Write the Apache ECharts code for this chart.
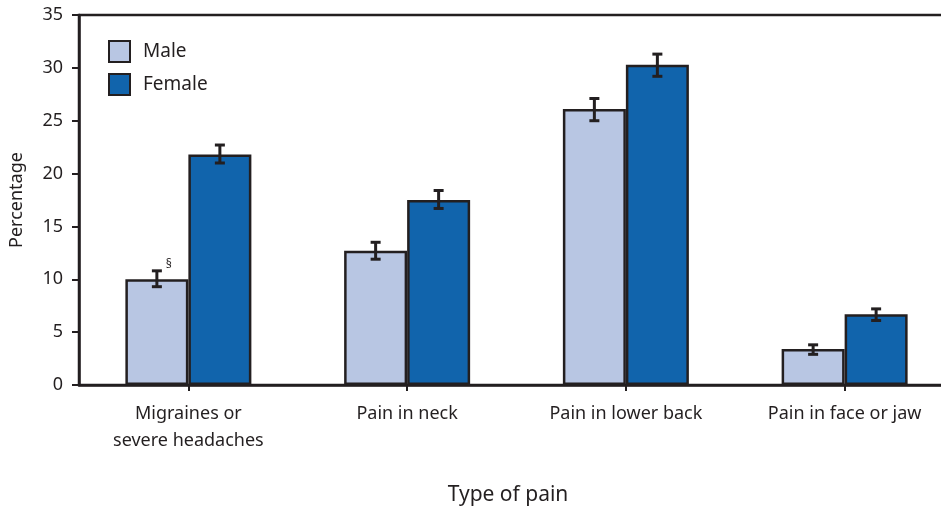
<!DOCTYPE html>
<html>
<head>
<meta charset="utf-8">
<script src="https://cdn.jsdelivr.net/npm/echarts@6/dist/echarts.min.js"></script>
<style>
  html, body { margin: 0; padding: 0; background: #fff; }
  #chart { width: 941px; height: 506px; }
</style>
</head>
<body>
<div id="chart"></div>
<script>
// Categories and estimated percentages with 95% confidence limits
const categories = ['Migraines or\nsevere headaches', 'Pain in neck', 'Pain in lower back', 'Pain in face or jaw'];
const maleValues = [10.0, 12.7, 26.1, 3.4];
const femaleValues = [21.8, 17.5, 30.3, 6.7];
const maleLow = [9.3, 11.9, 25.0, 2.9];
const maleHigh = [10.8, 13.5, 27.1, 3.8];
const femaleLow = [21.0, 16.7, 29.2, 6.1];
const femaleHigh = [22.7, 18.4, 31.3, 7.2];
const yTicks = [0, 5, 10, 15, 20, 25, 30, 35];

const FONT = 'Noto Sans';
const INK = '#231F20';
const BAR_W = 63;

function errorSeries(name, low, high, shift) {
  return {
    name: name,
    type: 'custom',
    z: 5,
    silent: true,
    data: low.map((l, i) => [i, l, high[i]]),
    renderItem: function (params, api) {
      const lo = api.coord([api.value(0), api.value(1)]);
      const hi = api.coord([api.value(0), api.value(2)]);
      const x = lo[0] + shift;
      const cap = 5;
      const style = { stroke: INK, lineWidth: 3 };
      return {
        type: 'group',
        children: [
          { type: 'line', shape: { x1: x, y1: lo[1], x2: x, y2: hi[1] }, style: style },
          { type: 'line', shape: { x1: x - cap, y1: lo[1], x2: x + cap, y2: lo[1] }, style: style },
          { type: 'line', shape: { x1: x - cap, y1: hi[1], x2: x + cap, y2: hi[1] }, style: style }
        ]
      };
    }
  };
}

const chart = echarts.init(document.getElementById('chart'));
chart.setOption({
  animation: false,
  textStyle: { fontFamily: FONT },
  grid: {
    left: 79, top: 15, width: 875, bottom: 121,
    outerBoundsMode: 'none',
    containLabel: false,
    show: true, borderColor: INK, borderWidth: 2.5, backgroundColor: 'transparent'
  },
  legend: {
    data: ['Male', 'Female'],
    orient: 'vertical',
    left: 103, top: 35,
    itemWidth: 21, itemHeight: 21, itemGap: 10,
    icon: 'rect',
    textStyle: { fontFamily: FONT, fontSize: 19, color: INK, padding: [0, 0, 0, 8] }
  },
  xAxis: {
    type: 'category',
    data: categories,
    axisLine: { lineStyle: { color: INK, width: 2.5 } },
    axisTick: { show: true, alignWithLabel: true, length: 6, lineStyle: { color: INK, width: 2 } },
    axisLabel: { fontFamily: FONT, fontSize: 18, color: INK, margin: 15, lineHeight: 27, interval: 0 }
  },
  yAxis: {
    type: 'value',
    min: 0, max: 35, interval: 5,
    name: 'Percentage',
    nameLocation: 'middle',
    nameGap: 53,
    nameTextStyle: { fontFamily: FONT, fontSize: 18, color: INK },
    splitLine: { show: false },
    axisLine: { show: true, lineStyle: { color: INK, width: 2.5 } },
    axisTick: { show: true, length: 7, lineStyle: { color: INK, width: 2 } },
    axisLabel: {
      fontFamily: FONT, fontSize: 18, color: INK, margin: 16,
      formatter: v => (yTicks.includes(v) ? String(v) : '')
    }
  },
  graphic: [{
    type: 'text',
    x: 508, y: 495,
    style: { text: 'Type of pain', font: '21px "Noto Sans"', fill: INK, textAlign: 'center', textVerticalAlign: 'middle' }
  }],
  series: [
    {
      name: 'Male',
      type: 'bar',
      barWidth: BAR_W,
      barGap: '0%',
      itemStyle: { color: '#B8C6E3', borderColor: INK, borderWidth: 2.5 },
      data: maleValues.map((v, i) => i === 0 ? {
        value: v,
        label: { show: true, position: 'top', offset: [12, -4], formatter: '\u00A7', fontSize: 12, color: INK, fontFamily: FONT }
      } : v)
    },
    {
      name: 'Female',
      type: 'bar',
      barWidth: BAR_W,
      barGap: '0%',
      itemStyle: { color: '#1164AC', borderColor: INK, borderWidth: 2.5 },
      data: femaleValues
    },
    errorSeries('Male CI', maleLow, maleHigh, -BAR_W / 2),
    errorSeries('Female CI', femaleLow, femaleHigh, BAR_W / 2)
  ]
});
</script>
</body>
</html>
